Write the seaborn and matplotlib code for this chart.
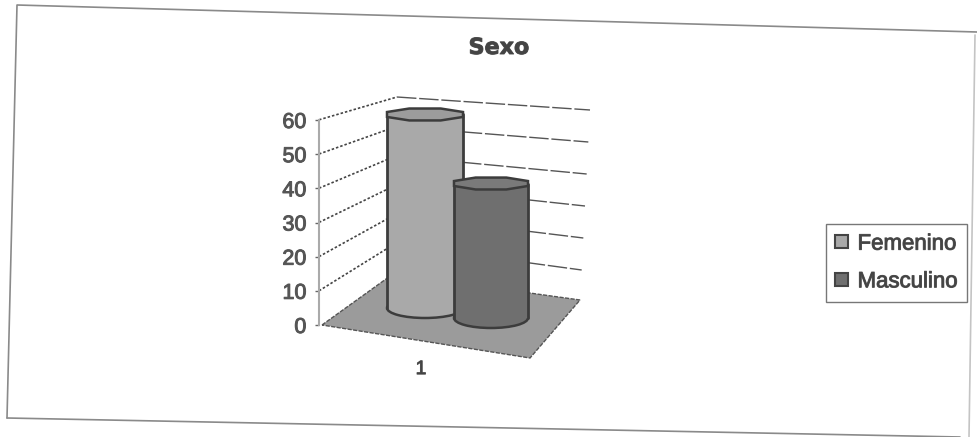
import matplotlib
matplotlib.use("Agg")
import matplotlib.pyplot as plt
import matplotlib.patheffects as pe
from matplotlib.patches import Ellipse, Patch, Polygon
import numpy as np
import seaborn as sns

sexo = ["Femenino", "Masculino"]
valores = [59, 41]
colores = ["#a9a9a9", "#6f6f6f"]
tapas = ["#9c9c9c", "#7a7a7a"]
ticks_y = [0, 10, 20, 30, 40, 50, 60]
categorias = ["1"]
titulo = "Sexo"

W, H = 977, 437

sns.set_theme(style="white")
plt.rcParams["font.family"] = ["Liberation Sans", "DejaVu Sans"]

# the scan makes all the text look thick
grueso = [pe.withStroke(linewidth=0.7, foreground="#555555")]


def pixel_axes(fig, left, right, top, bottom, zorder):
    ax = fig.add_axes([left / W, 1 - bottom / H, (right - left) / W, (bottom - top) / H], zorder=zorder)
    ax.patch.set_alpha(0)
    return ax


def cylinder(fig, nombre, valor, color, tapa, left, right, base, zorder):
    # every bar gets its own axes, shifted for the depth of the fake 3d
    k = 3.28
    ax = pixel_axes(fig, left, right, base - 60 * k, base, zorder)
    edge = "#3c3c3c"
    sns.barplot(x=[nombre], y=[valor], color=color, width=1, saturation=1, linewidth=0, ax=ax, zorder=2)
    ax.set_xlim(-0.5, 0.5)
    ax.set_ylim(0, 60)
    ax.set_axis_off()
    ax.add_patch(Ellipse((0, 0), 1, 20 / k, fc=color, ec=edge, lw=1.8, zorder=1, clip_on=False))
    for x in [-0.5, 0.5]:
        ax.plot([x, x], [0, valor], color=edge, lw=2, zorder=3, clip_on=False)
    ang = np.radians(np.arange(22.5, 360, 45))
    oct_x = 0.5 * np.cos(ang) / np.cos(np.radians(22.5))
    oct_y = valor + 0.5 * (13 / k) * np.sin(ang) / np.cos(np.radians(67.5)) * 0.38
    ax.add_patch(Polygon(np.column_stack([oct_x, oct_y]), fc=tapa, ec=edge, lw=1.8, zorder=4, clip_on=False))
    return ax


fig = plt.figure(figsize=(W / 100, H / 100), dpi=100, facecolor="white")

bg = fig.add_axes([0, 0, 1, 1], zorder=0)
bg.set_xlim(0, W)
bg.set_ylim(H, 0)
bg.set_axis_off()

# scanned page frame
bg.plot([7, 17, 977], [418, 5, 32], color="#8a8a8a", lw=1.2)
bg.plot([7, 960], [418, 437], color="#8a8a8a", lw=1.2)
bg.plot([975, 969], [35, 437], color="#c4c4c4", lw=1.2)

# floor
bg.add_patch(Polygon([(322, 325), (393, 274), (580, 300), (530, 358)], fc="#9b9b9b", ec="#555555", lw=1, ls=(0, (3, 1))))

# walls
for v in ticks_y[1:]:
    frente = (319, 325 - 3.42 * v)
    fondo = (393 + v * 4 / 60, 274 - 2.95 * v)
    lado = (580 + v * 10 / 60, 302 - 3.2 * v)
    bg.plot([frente[0], fondo[0]], [frente[1], fondo[1]], color="#444444", lw=1.2, ls=(0, (1.5, 1.2)))
    bg.plot([fondo[0], lado[0]], [fondo[1], lado[1]], color="#555555", lw=1, ls=(0, (14, 2)))

# value axis
ax = pixel_axes(fig, 319, 523, 120, 325, 1)
ax.set_xlim(0, 1)
ax.set_ylim(0, 60)
ax.set_yticks(ticks_y)
ax.set_xticks([0.5])
ax.set_xticklabels(categorias)
for s in ["top", "right", "bottom"]:
    ax.spines[s].set_visible(False)
ax.spines["left"].set_color("#aaaaaa")
ax.spines["left"].set_linewidth(1.5)
ax.tick_params(axis="y", left=True, length=3, width=1, color="#666666", pad=6, labelsize=15.5, labelcolor="#555555")
ax.tick_params(axis="x", bottom=False, pad=20, labelsize=14, labelcolor="#444444")
for t in ax.get_yticklabels() + ax.get_xticklabels():
    t.set_path_effects(grueso)

cylinder(fig, sexo[0], valores[0], colores[0], tapas[0], 387, 463, 308, 2)
cylinder(fig, sexo[1], valores[1], colores[1], tapas[1], 454, 528, 318, 3)

fig.text(499 / W, 1 - 48 / H, titulo, ha="center", va="center", fontsize=16, fontweight="bold",
         family="DejaVu Sans", color="#444444", path_effects=grueso)

handles = [Patch(fc=c, ec="#444444", lw=1.5) for c in colores]
leg = fig.legend(handles, sexo, loc="center left", bbox_to_anchor=(826 / W, 1 - 263 / H), borderaxespad=0,
                 fontsize=16, frameon=True, fancybox=False, edgecolor="#777777", facecolor="white", framealpha=1,
                 handlelength=0.55, handleheight=0.55, handletextpad=0.45, labelspacing=0.75, borderpad=0.42,
                 labelcolor="#444444")
for t in leg.get_texts():
    t.set_path_effects(grueso)

fig.savefig("out.png", dpi=100)
